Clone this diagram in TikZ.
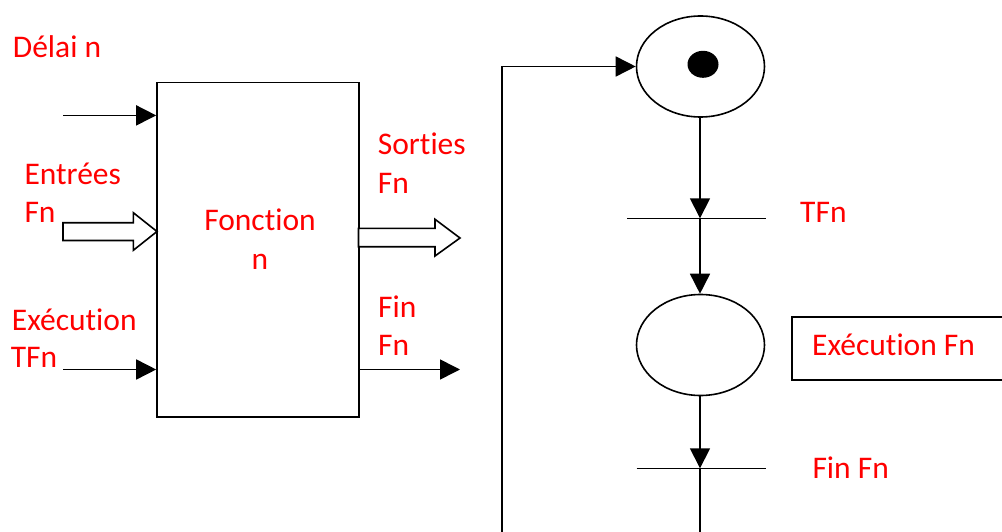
\documentclass[tikz,border=0pt]{standalone}
\usepackage{fontspec}
\setmainfont{Carlito}[Ligatures={NoCommon,NoRequired,NoContextual,NoRare},Contextuals={NoAlternate},RawFeature={-liga;-clig;-calt;-dlig}]
\usetikzlibrary{arrows.meta,shapes.geometric}
\begin{document}
\begin{tikzpicture}[x=1pt,y=-1pt,
  lbl/.style={text=red,inner sep=0pt,anchor=base west,font=\fontsize{31.5}{37}\selectfont},
  lblc/.style={lbl,anchor=base},
  ln/.style={line width=1.6pt,draw=black},
  arr/.style={ln,-{Triangle[length=20pt,width=20pt]}},
  place/.style={draw,ellipse,line width=1.6pt,minimum width=128pt,minimum height=101pt,inner sep=0pt},
  hollow/.style={ln,fill=white,line join=miter}
]
\useasboundingbox (0,0) rectangle (1002,532);
\clip (0,0) rectangle (1002,532);

% ---------- left: function block ----------
\node (fn) [draw,line width=1.6pt,minimum width=202pt,minimum height=334.5pt,inner sep=0pt] at (258,249.75) {};
\node[lblc] (fonc1) at (260,230.7) {Fonc\kern0ptt\kern0ption};
\node[lblc] (fonc2) at (260,269.8) {n};

\node[lbl] (delai) at (12.7,57.5) {Délai n};
\node[lbl] (entr1) at (24.3,185) {Entrées};
\node[lbl] (entr2) at (24.3,222.3) {Fn};
\node[lbl] (exec1) at (11.7,330) {Exécut\kern0ption};
\node[lbl] (exec2) at (10.7,367.7) {TFn};
\node[lbl] (sort1) at (377.7,155) {Sort\kern0pties};
\node[lbl] (sort2) at (377.7,193.4) {Fn};
\node[lbl] (fin1) at (378,317.3) {Fin};
\node[lbl] (fin2) at (378,355) {Fn};

\coordinate (in1) at (63,115.4);
\coordinate (in3) at (63,369.5);
\coordinate (out3) at (460,369.5);
\draw[arr] (in1) -- (in1 -| fn.west);
\draw[arr] (in3) -- (in3 -| fn.west);
\draw[arr] (out3 -| fn.east) -- (out3);

% hollow arrows
\draw[hollow] (63,222.7) -- (133.3,222.7) -- (133.3,212.7) -- (157,231.5) -- (133.3,250.3) -- (133.3,240.5) -- (63,240.5) -- cycle;
\draw[hollow] (358.5,228.3) -- (435,228.3) -- (435,219.3) -- (460,238) -- (435,256) -- (435,246.7) -- (358.5,246.7) -- cycle;

% ---------- right: Petri net ----------
\node (p1) [place] at (700.5,66.5) {};
\node (tok) [fill=black,ellipse,minimum width=31pt,minimum height=27pt,inner sep=0pt] at (703,64.3) {};
\node (p2) [place] at (700.5,345) {};

\coordinate (t1) at (700,218.3);
\coordinate (t1w) at (627.3,218.3);
\coordinate (t1e) at (765.7,218.3);
\coordinate (t2) at (700,468.3);
\coordinate (t2w) at (636.7,468.3);
\coordinate (t2e) at (765.7,468.3);
\draw[ln] (t1w) -- (t1e);
\draw[ln] (t2w) -- (t2e);

\draw[arr] (p1.south -| t1) -- (t1);
\draw[arr] (t1) -- (p2.north -| t1);
\draw[arr] (p2.south -| t2) -- (t2);

\coordinate (loopc) at (502,560);
\draw[arr] (t2) -- (t2 |- loopc) -- (loopc) |- (p1.west);

\node[lbl] (tfn) at (800,222.7) {TFn};
\node[lbl] (finfn) at (812.3,478.3) {Fin Fn};
\node (exbox) [draw,line width=1.6pt,anchor=north west,minimum width=230pt,minimum height=63pt,inner sep=0pt] at (791,316) {};
\node[lbl] (exfn) at (812,355) {Exécut\kern0ption Fn};
\end{tikzpicture}
\end{document}
